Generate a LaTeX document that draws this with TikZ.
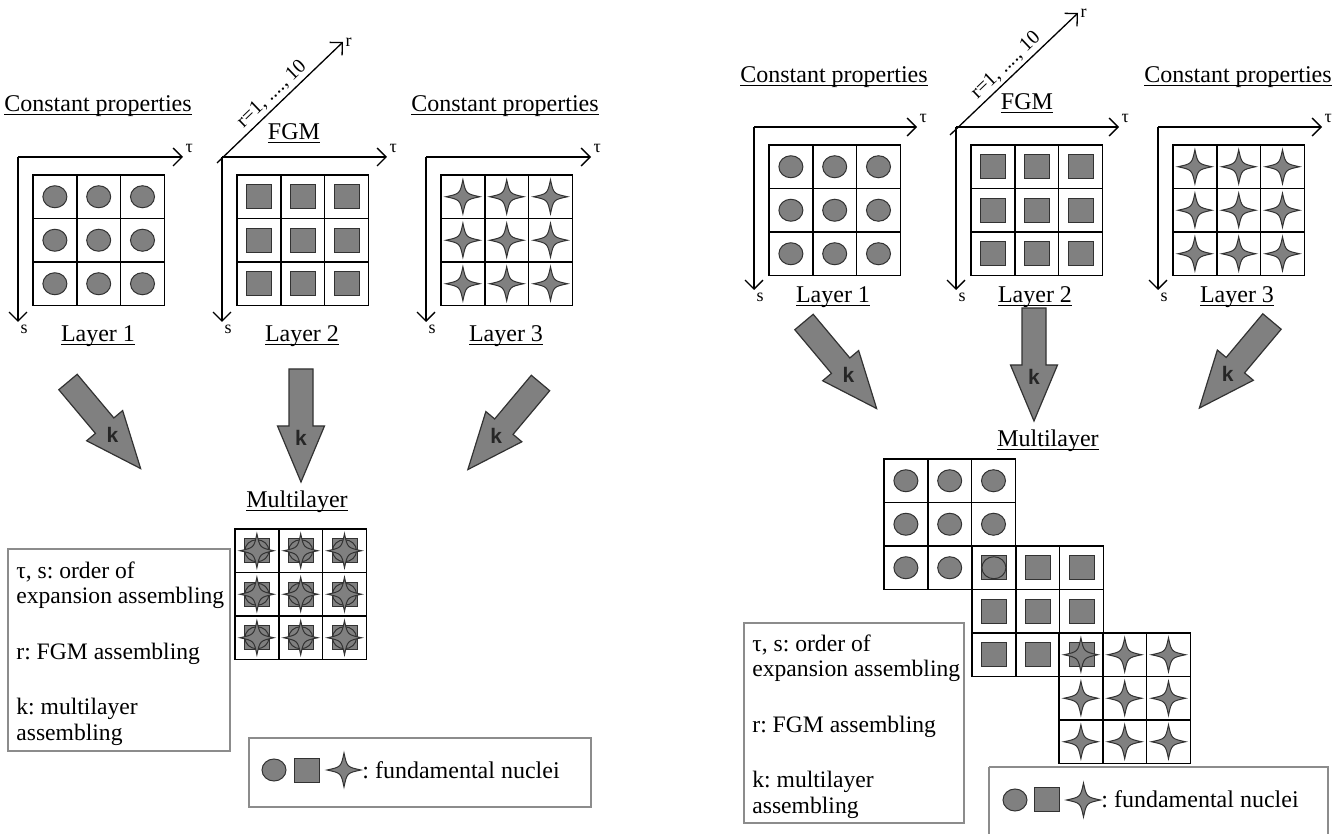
\documentclass[tikz,border=0pt]{standalone}
\usepackage{fontspec}
\setmainfont{Liberation Serif}
\newfontfamily\kfont{Liberation Sans}
\usetikzlibrary{arrows.meta}
\frenchspacing

\definecolor{nucleigray}{RGB}{128,128,128}
\definecolor{edgegray}{RGB}{50,50,50}
\definecolor{boxgray}{RGB}{140,140,140}

% underline that cuts through the descenders
\newcommand{\ulined}[1]{\setbox0\hbox{#1}\rlap{\rule[-1.6pt]{\wd0}{0.55pt}}\box0}

\tikzset{
  nucleus/.style={fill=nucleigray, draw=edgegray, line width=0.5pt},
  cellline/.style={draw=black, line width=0.75pt},
  axis/.style={line width=0.65pt, -{Straight Barb[length=4.5pt,width=9pt]}},
  keybox/.style={draw=boxgray, line width=0.7pt},
  heading/.style={font=\large, anchor=base, inner sep=0pt},
  tlabel/.style={font=\small, anchor=south west, inner sep=1pt, yshift=1pt},
  slabel/.style={font=\small, anchor=north west, inner sep=1pt},
  rangelabel/.style={pos=0.5, sloped, above, font=\normalsize, inner sep=1.5pt},
  keytext/.style={font=\fontsize{11.8}{12.75}\selectfont, align=left, anchor=north west, inner sep=0pt},
  bigarrow/.style={fill=nucleigray, draw=edgegray, line width=0.6pt, line join=miter},
  klabel/.style={font=\kfont\bfseries\fontsize{10.5}{12}\selectfont, text=black!85},
  disc/.pic={\path[nucleus] (0,0) ellipse [x radius=12, y radius=11];},
  block/.pic={\path[nucleus] (-12.5,-12) rectangle (12.5,12);},
  spark/.pic={\path[nucleus] (17,0) .. controls (3,3) .. (0,17) .. controls (-3,3) .. (-17,0)
      .. controls (-3,-3) .. (0,-17) .. controls (3,-3) .. cycle;},
  merged/.pic={\pic {block}; \pic {disc}; \pic {spark};},
  layer/.pic={
    \foreach \i in {0,1,2}
      \foreach \j in {0,1,2} {
        \draw[cellline] (\i*43.8,\j*43.5) rectangle ++(43.8,43.5);
        \pic at (\i*43.8+21.9,\j*43.5+21.75) {#1};
      }
  },
  kArrow/.pic={
    \draw[bigarrow] (-12,0) -- (-12,57) -- (-23.5,57) -- (0,113) -- (23.5,57) -- (12,57) -- (12,0) -- cycle;
    \node[klabel] (-k) at (0,69) {k};
  },
}

\begin{document}
\begin{tikzpicture}[x=0.5pt, y=-0.5pt]
  \useasboundingbox (0,0) rectangle (1341,834);

  % ---- left scheme ----
  \begin{scope}[shift={(18,157)}]
    \draw[axis] (0,0) -- (165,0) node[tlabel] (tauA) {τ};
    \draw[axis] (0,0) -- (0,165) node[slabel] (sA) {s};
    \pic at (15,18) {layer=disc};
    \node[heading] (constA) at (80,-45) {\ulined{Constant properties}};
    \node[heading] (layerA) at (80,185) {\ulined{Layer 1}};
  \end{scope}

  \begin{scope}[shift={(222,157)}]
    \draw[axis] (-5,6) -- (121,-115) node[font=\small, anchor=west, inner sep=1pt] (rB) {r}
      node[rangelabel] (rangeB) {r=1, ...., 10};
    \draw[axis] (0,0) -- (165,0) node[tlabel] (tauB) {τ};
    \draw[axis] (0,0) -- (0,165) node[slabel] (sB) {s};
    \pic at (15,18) {layer=block};
    \node[heading] (fgmB) at (72,-17) {\ulined{FGM}};
    \node[heading] (layerB) at (80,185) {\ulined{Layer 2}};
  \end{scope}

  \begin{scope}[shift={(426,157)}]
    \draw[axis] (0,0) -- (165,0) node[tlabel] (tauC) {τ};
    \draw[axis] (0,0) -- (0,165) node[slabel] (sC) {s};
    \pic at (15,18) {layer=spark};
    \node[heading] (constC) at (79,-45) {\ulined{Constant properties}};
    \node[heading] (layerC) at (80,185) {\ulined{Layer 3}};
  \end{scope}

  \pic[rotate=40] (arrowA) at (68,382) {kArrow};
  \pic (arrowB) at (301,369) {kArrow};
  \pic[rotate=-40] (arrowC) at (540.5,383) {kArrow};

  \node[heading] (multiA) at (297,508) {\ulined{Multilayer}};
  \pic at (235,529) {layer=merged};

  \draw[keybox] (8,549) rectangle (230,751);
  \node[keytext] (keyA) at (16,561) {τ, s: order of\\expansion assembling\\[15pt]r: FGM assembling\\[15pt]k: multilayer\\assembling};

  \draw[keybox] (249,738) rectangle (591,807);
  \pic at (274,770) {disc};
  \pic at (306.5,770) {block};
  \pic at (344,770) {spark};
  \node[heading, anchor=base west] (nucleiA) at (362,778) {: fundamental nuclei};

  % ---- right scheme ----
  \begin{scope}[shift={(754,127)}]
    \draw[axis] (0,0) -- (163,0) node[tlabel] (tauD) {τ};
    \draw[axis] (0,0) -- (0,163) node[slabel] (sD) {s};
    \pic at (15,18) {layer=disc};
    \node[heading] (constD) at (80,-44) {\ulined{Constant properties}};
    \node[heading] (layerD) at (79,176) {\ulined{Layer 1}};
  \end{scope}

  \begin{scope}[shift={(956,127)}]
    \draw[axis] (-6,8) -- (122,-114) node[font=\small, anchor=west, inner sep=1pt] (rE) {r}
      node[rangelabel] (rangeE) {r=1, ...., 10};
    \draw[axis] (0,0) -- (163,0) node[tlabel] (tauE) {τ};
    \draw[axis] (0,0) -- (0,163) node[slabel] (sE) {s};
    \pic at (15,18) {layer=block};
    \node[heading] (fgmE) at (71,-17) {\ulined{FGM}};
    \node[heading] (layerE) at (79,176) {\ulined{Layer 2}};
  \end{scope}

  \begin{scope}[shift={(1158,127)}]
    \draw[axis] (0,0) -- (164,0) node[tlabel] (tauF) {τ};
    \draw[axis] (0,0) -- (0,163) node[slabel] (sF) {s};
    \pic at (15,18) {layer=spark};
    \node[heading] (constF) at (80,-44) {\ulined{Constant properties}};
    \node[heading] (layerF) at (79,176) {\ulined{Layer 3}};
  \end{scope}

  \pic[rotate=40] (arrowD) at (804,322) {kArrow};
  \pic (arrowE) at (1034,308) {kArrow};
  \pic[rotate=-40] (arrowF) at (1272,321.5) {kArrow};

  \node[heading] (multiD) at (1048,447) {\ulined{Multilayer}};
  \pic at (884,459) {layer=disc};
  \pic at (972,546) {layer=block};
  \pic at (993.9,567.75) {disc};
  \pic at (1059,633) {layer=spark};

  \draw[keybox] (744,623) rectangle (964,823);
  \node[keytext] (keyD) at (752,634) {τ, s: order of\\expansion assembling\\[15pt]r: FGM assembling\\[15pt]k: multilayer\\assembling};

  \draw[keybox] (989,767) -- (989,850) (989,767) -- (1328,767) -- (1328,850);
  \pic at (1015,800) {disc};
  \pic at (1047,799) {block};
  \pic at (1083.5,800) {spark};
  \node[heading, anchor=base west] (nucleiD) at (1101,807) {: fundamental nuclei};
\end{tikzpicture}
\end{document}
